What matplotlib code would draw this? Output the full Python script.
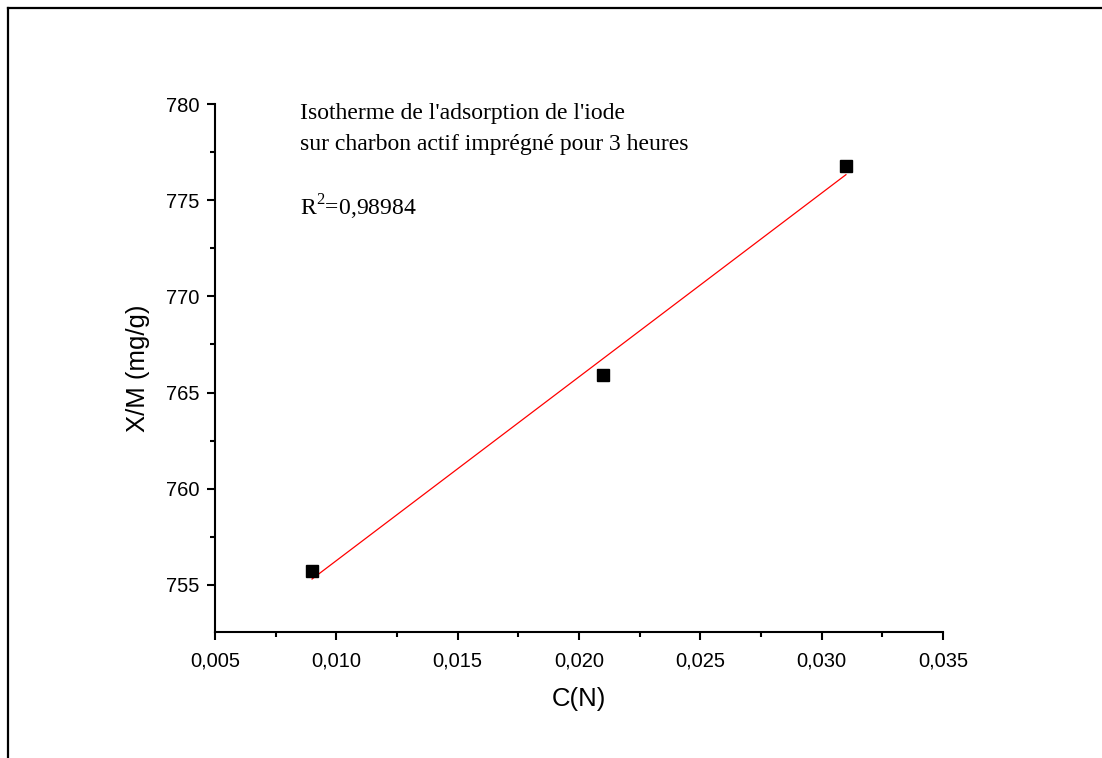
import numpy as np
import matplotlib
matplotlib.use("Agg")
import matplotlib.pyplot as plt
from matplotlib.ticker import FuncFormatter, MultipleLocator
from matplotlib.lines import Line2D

plt.rcParams["font.family"] = ["Liberation Sans", "DejaVu Sans"]
plt.rcParams["mathtext.fontset"] = "custom"
plt.rcParams["mathtext.rm"] = "Liberation Serif"

# Iodine adsorption isotherm data
conc = [0.009, 0.021, 0.031]          # C (N)
uptake = [755.7, 765.9, 776.8]        # X/M (mg/g)
r2_label = "0,98984"

W, H = 1102, 758
fig = plt.figure(figsize=(W / 100, H / 100), dpi=100)

# page frame (top and left edges)
fig.add_artist(Line2D([8 / W, 1.0], [1 - 8 / H, 1 - 8 / H], color="black", lw=1.6,
                      transform=fig.transFigure))
fig.add_artist(Line2D([8 / W, 8 / W], [0.0, 1 - 8 / H], color="black", lw=1.6,
                      transform=fig.transFigure))

ax = fig.add_axes([215 / W, 1 - 632 / H, (943 - 215) / W, (632 - 104) / H])

# linear fit
slope, intercept = np.polyfit(conc, uptake, 1)
xf = np.array([min(conc), max(conc)])
ax.plot(xf, slope * xf + intercept, color="red", lw=0.9, zorder=2)
ax.plot(conc, uptake, ls="none", marker="s", ms=8.6, color="black", zorder=3)

ax.set_xlim(0.005, 0.035)
ax.set_ylim(752.55, 780)

for s in ("top", "right"):
    ax.spines[s].set_visible(False)
for s in ("left", "bottom"):
    ax.spines[s].set_linewidth(1.5)

ax.xaxis.set_major_locator(MultipleLocator(0.005))
ax.xaxis.set_minor_locator(MultipleLocator(0.0025))
ax.yaxis.set_major_locator(MultipleLocator(5))
ax.yaxis.set_minor_locator(MultipleLocator(2.5))
ax.xaxis.set_major_formatter(FuncFormatter(lambda v, p: f"{v:.3f}".replace(".", ",")))
ax.yaxis.set_major_formatter(FuncFormatter(lambda v, p: f"{v:.0f}"))
ax.tick_params(which="major", direction="out", length=6, width=1.5, labelsize=14.5)
ax.tick_params(axis="x", which="major", pad=8)
ax.tick_params(axis="y", which="major", pad=5)
ax.tick_params(which="minor", direction="out", length=3.5, width=1.5)

ax.set_xlabel("C(N)", fontsize=18.5, labelpad=12)
ax.set_ylabel("X/M (mg/g)", fontsize=18.5, labelpad=12)

serif = ["Liberation Serif", "DejaVu Serif"]
tx = (300 - 215) / 728
ax.text(tx, 1 - (119 - 104) / 528, "Isotherme de l'adsorption de l'iode",
        transform=ax.transAxes, family=serif, fontsize=17, va="baseline")
ax.text(tx, 1 - (150 - 104) / 528, "sur charbon actif imprégné pour 3 heures",
        transform=ax.transAxes, family=serif, fontsize=17, va="baseline")
ax.text(tx, 1 - (215 - 104) / 528, r"$\mathrm{R}^{2}$=" + r2_label,
        transform=ax.transAxes, family=serif, fontsize=17, va="baseline")

fig.savefig("out.png", dpi=100)
